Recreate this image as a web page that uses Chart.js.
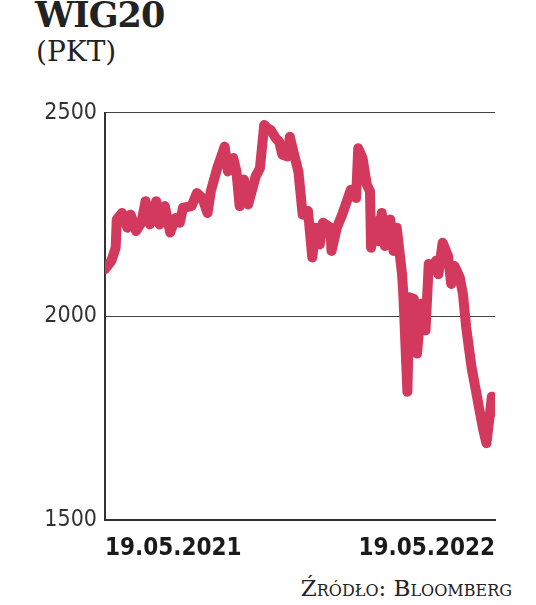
<!DOCTYPE html>
<html>
<head>
<meta charset="utf-8">
<script src="https://cdn.jsdelivr.net/npm/chart.js@4"></script>
<style>
  body { margin: 0; background: #fff; width: 536px; height: 605px; position: relative; overflow: hidden; }
  #title { position: absolute; left: 35px; top: -6px; font: bold 35px "DejaVu Serif", serif; color: #222; letter-spacing: -1px; }
  #unit { position: absolute; left: 36px; top: 35px; font: 28px "DejaVu Serif", serif; color: #222; }
  #source { position: absolute; right: 24px; top: 575px; font: 23px "DejaVu Serif", serif; font-variant: small-caps; color: #222; }
  #wrap { position: absolute; left: 25px; top: 91px; width: 476px; height: 478px; }
</style>
</head>
<body>
<div id="title">WIG20</div>
<div id="unit">(PKT)</div>
<div id="wrap"><canvas id="chart"></canvas></div>
<div id="source">Źródło: Bloomberg</div>
<script>
// days since 19.05.2021 and index level (pkt)
const days = [0, 6, 10, 11, 16, 21, 24, 29, 34, 38, 42, 48, 51, 56, 61, 66, 70, 73, 81, 86,
  91, 96, 99, 105, 112, 115, 120, 123, 126, 130, 134, 141, 145, 149, 152, 155, 160, 163, 166, 171,
  173, 177, 181, 185, 190, 194, 197, 201, 204, 211, 212, 217, 222, 230, 235, 237, 241, 245, 248, 249,
  253, 256, 259, 262, 267, 270, 273, 278, 279, 280, 283, 285, 289, 292, 296, 300, 303, 307, 310, 312,
  316, 321, 324, 327, 332, 335, 338, 343, 347, 351, 354, 357, 360, 362, 365];
const values = [2116, 2137, 2169, 2238, 2254, 2218, 2250, 2210, 2230, 2283, 2226, 2283, 2226, 2271, 2206, 2242, 2230, 2267, 2271, 2303,
  2291, 2254, 2307, 2364, 2417, 2356, 2389, 2356, 2271, 2336, 2275, 2344, 2364, 2470, 2462, 2458, 2437, 2429, 2397, 2393,
  2441, 2397, 2356, 2250, 2259, 2145, 2218, 2177, 2230, 2218, 2161, 2218, 2250, 2311, 2291, 2413, 2389, 2324, 2307, 2169,
  2234, 2185, 2254, 2173, 2238, 2161, 2218, 2104, 2063, 2007, 1815, 2047, 2043, 1909, 2031, 1966, 2129, 2124, 2137, 2104,
  2181, 2149, 2080, 2124, 2096, 2055, 1974, 1876, 1820, 1763, 1722, 1689, 1754, 1803, 1767];
const yTicks = [1500, 2000, 2500];
const xTicks = { 0: '19.05.2021', 365: '19.05.2022' };

const points = days.map((d, i) => ({ x: d, y: values[i] }));

new Chart(document.getElementById('chart'), {
  type: 'line',
  data: {
    datasets: [{
      data: points,
      borderColor: '#d2395c',
      borderWidth: 10,
      borderJoinStyle: 'round',
      borderCapStyle: 'round',
      pointRadius: 0,
      tension: 0
    }]
  },
  options: {
    responsive: true,
    maintainAspectRatio: false,
    animation: false,
    layout: { padding: 0 },
    plugins: { legend: { display: false }, tooltip: { enabled: false } },
    scales: {
      x: {
        type: 'linear',
        min: 0,
        max: 365,
        afterBuildTicks: s => { s.ticks = [{ value: 0 }, { value: 365 }]; },
        ticks: {
          align: 'inner',
          maxRotation: 0,
          padding: 6,
          color: '#1a1a1a',
          font: { family: 'DejaVu Sans Condensed', weight: 'bold', size: 24 },
          callback: v => xTicks[v]
        },
        grid: { display: false },
        border: { display: true, color: '#333', width: 2 }
      },
      y: {
        min: 1500,
        max: 2500,
        afterBuildTicks: s => { s.ticks = yTicks.map(v => ({ value: v })); },
        afterFit: s => { s.width = 80; },
        ticks: {
          padding: 8,
          color: '#333',
          font: { family: 'DejaVu Sans Condensed', size: 23 },
          callback: v => String(v)
        },
        grid: { color: '#444', lineWidth: 1, drawTicks: false },
        border: { display: true, color: '#333', width: 2 }
      }
    }
  }
});
</script>
</body>
</html>
